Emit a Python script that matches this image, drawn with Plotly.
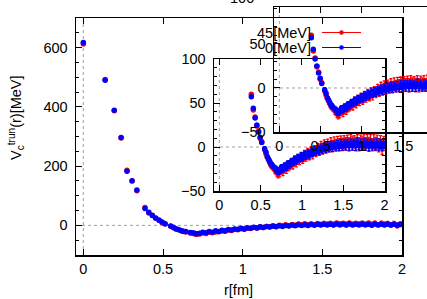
import plotly.graph_objects as go

W, H = 427, 299

# ---------------- data ----------------
r_near = [0.0, 0.137, 0.194, 0.237, 0.274, 0.306, 0.336, 0.387, 0.411, 0.433,
          0.454, 0.475, 0.494, 0.513, 0.548, 0.565, 0.581, 0.597, 0.613, 0.628,
          0.643, 0.671, 0.685, 0.699, 0.712]
r_far = [0.73, 0.75, 0.77, 0.79, 0.81, 0.83, 0.85, 0.87, 0.89, 0.91, 0.93, 0.95,
         0.97, 0.99, 1.01, 1.03, 1.05, 1.07, 1.09, 1.11, 1.13, 1.15, 1.17, 1.19,
         1.21, 1.23, 1.25, 1.27, 1.29, 1.31, 1.33, 1.35, 1.37, 1.39, 1.41, 1.43,
         1.45, 1.47, 1.49, 1.51, 1.53, 1.55, 1.57, 1.59, 1.61, 1.63, 1.65, 1.67,
         1.69, 1.71, 1.73, 1.75, 1.77, 1.79, 1.81, 1.83, 1.85, 1.87, 1.89, 1.91,
         1.93, 1.95, 1.97, 1.99]

# 0 MeV (blue)
v0_near = [617, 490, 389, 297, 183, 151, 119, 57, 44, 33,
           25, 17, 11, 5, -2, -6, -11, -14, -17, -20,
           -21, -24, -25, -27, -28]
v0_far = [-27, -23, -25, -21, -23, -18.5, -20.5, -16.5, -18, -14, -16, -12,
          -13.5, -10, -12, -8, -10, -6.5, -8.5, -5, -7, -3.5, -5.5, -2.5,
          -4.5, -1, -3.5, 0, -2.5, 1, -1.5, 2, -0.5, 2.5, 0, 3,
          0.5, 3.5, 1, 4, 1.5, 4, 1, 4.5, 1.5, 4.5, 1, 5,
          1.5, 4, 1, 4.5, 1.5, 4, 0.5, 4.5, 1.5, 4, 1, 4.5,
          1, 4, 0.5, 3.5]
e0_near = [1, 1, 1, 1, 1, 1, 1, 1, 1, 1,
           1.5, 1.5, 1.5, 2, 2, 2, 2, 2.5, 2.5, 2.5,
           3, 3, 3, 3.5, 3.5]
e0_far = [3.5, 3, 3.5, 3, 3.5, 3, 3.5, 3.5, 3, 3.5, 3.5, 3.5,
          3.5, 3.5, 4, 3.5, 4, 3.5, 4, 4, 3.5, 4, 4, 4,
          4, 4.5, 4, 4.5, 4, 4.5, 4, 4.5, 4.5, 4, 4.5, 4.5,
          4.5, 5, 4.5, 4.5, 5, 4.5, 5, 4.5, 5, 4.5, 5, 5,
          4.5, 5, 4.5, 5, 5, 4.5, 5, 4.5, 5, 5, 4.5, 5,
          5, 4.5, 5, 5]

# 45 MeV (red)
v45_near = [612, 492, 387, 295, 186, 150, 117, 60, 42, 34,
            24, 18, 10, 6, -3, -8, -12, -15, -18, -21,
            -22, -26, -27, -29, -30]
v45_far = [-29, -26, -27.5, -23, -25, -22, -21.5, -19, -20, -16, -17.5, -14,
           -15, -11.5, -13, -10, -10.5, -7.5, -9, -5.5, -7.5, -4, -5, -2,
           -3.5, 0, -2, 1.5, -1, 2.5, 0.5, 3.5, 1, 4.5, 2, 5,
           2.5, 6, 3, 5.5, 3.5, 6.5, 3, 7, 4, 6, 3.5, 7,
           3, 6.5, 4, 6, 3.5, 7, 3, 6.5, 2.5, 6, 3.5, 5.5,
           2, 5, 0, 4]
e45_near = [1.5, 1.5, 1.5, 1.5, 1.5, 1.5, 1.5, 1.5, 1.5, 1.5,
            2, 2, 2.5, 2.5, 3, 3, 3, 3.5, 3.5, 3.5,
            4, 4, 4.5, 4.5, 5]
e45_far = [5, 4.5, 5, 4.5, 5, 5, 4.5, 5, 5, 5.5, 5, 5.5,
           5, 5.5, 5.5, 6, 5.5, 6, 5.5, 6, 6, 5.5, 6, 6,
           6, 6.5, 6, 6.5, 6, 6.5, 6, 7, 6.5, 7, 6.5, 7,
           7, 6.5, 7, 7.5, 7, 7, 7.5, 7, 7.5, 7, 7.5, 7,
           7.5, 7, 7.5, 8, 7, 7.5, 8, 7.5, 7, 8, 7.5, 8,
           7.5, 8, 8.5, 8]

series = [
    ("45[MeV]", "#ff0000", r_near + r_far, v45_near + v45_far, e45_near + e45_far),
    ("0[MeV]", "#0000ff", r_near + r_far, v0_near + v0_far, e0_near + e0_far),
]

main_xticks = [0, 0.5, 1, 1.5, 2]
main_yticks = [0, 200, 400, 600]
inset_yticks = [-50, 0, 50, 100]

FONT = "Liberation Sans, Arial, sans-serif"
FS = 14.5


def px(x):
    return x / W


def py(y):
    return 1 - y / H


fig = go.Figure()

subplots = [("x", "y"), ("x2", "y2"), ("x3", "y3")]
for xa, ya in subplots:
    for name, col, rr, vv, ee in series:
        fig.add_trace(go.Scatter(
            x=rr, y=vv, xaxis=xa, yaxis=ya, mode="markers", name=name,
            marker=dict(color=col, size=5.5, line=dict(width=0)),
            error_y=dict(type="data", array=ee, color=col, thickness=1.3, width=1.5),
            showlegend=False, hoverinfo="skip"))

ax_common = dict(showgrid=False, zeroline=False, showline=True, linecolor="black",
                 linewidth=1.5, ticks="inside", tickcolor="black", tickwidth=1,
                 ticklen=6, tickfont=dict(family=FONT, size=FS, color="black"),
                 automargin=False)

fig.update_layout(
    width=W, height=H, margin=dict(l=0, r=0, t=0, b=0),
    paper_bgcolor="white", plot_bgcolor="rgba(0,0,0,0)",
    font=dict(family=FONT, size=FS, color="black"),
    showlegend=False,
    xaxis=dict(domain=[px(76), px(402)], range=[-0.046, 2.0], tickvals=main_xticks,
               ticktext=["0", "0.5", "1", "1.5", "2"], mirror="ticks", anchor="y",
               **ax_common),
    yaxis=dict(domain=[py(255), py(18)], range=[-100, 700], tickvals=main_yticks,
               mirror="ticks", anchor="x", ticklabelstandoff=4,
               minor=dict(dtick=50, tick0=0, ticks="inside", ticklen=3, tickcolor="black"),
               **ax_common),
    xaxis2=dict(domain=[px(214), px(385)], range=[-0.065, 2.005], tickvals=main_xticks,
                ticktext=["0", "0.5", "1", "1.5", "2"], mirror="ticks", anchor="y2",
                **ax_common),
    yaxis2=dict(domain=[py(191), py(59)], range=[-50, 100], tickvals=inset_yticks,
                mirror="ticks", anchor="x2", ticklabelstandoff=4,
                minor=dict(dtick=10, tick0=0, ticks="inside", ticklen=3, tickcolor="black"),
                **ax_common),
    xaxis3=dict(domain=[px(274), 1.0], range=[-0.065, -0.065 + 153 / 82.6],
                tickvals=main_xticks[:4], ticktext=["0", "0.5", "1", "1.5"],
                mirror="ticks", anchor="y3", **ax_common),
    yaxis3=dict(domain=[py(132), py(7)], range=[-50, 92], tickvals=inset_yticks[:3],
                mirror=False, anchor="x3", ticklabelstandoff=4,
                minor=dict(dtick=10, tick0=0, ticks="inside", ticklen=3, tickcolor="black"),
                **ax_common),
)

# dotted zero axes
shapes = []
for xa, ya in subplots:
    shapes.append(dict(type="line", xref=f"{xa} domain", yref=ya, x0=0, x1=1, y0=0, y1=0,
                       line=dict(color="#a0a0a0", width=1, dash="dot"), layer="below"))
    shapes.append(dict(type="line", xref=xa, yref=f"{ya} domain", x0=0, x1=0, y0=0, y1=1,
                       line=dict(color="#a0a0a0", width=1, dash="dot"), layer="below"))

# manual key (gnuplot style: text then sample)
key_rows = [("45[MeV]", "#ff0000", 32.5), ("0[MeV]", "#0000ff", 47.5)]
annotations = []
for label, col, yk in key_rows:
    annotations.append(dict(text=label, xref="paper", yref="paper", x=px(313), y=py(yk),
                            xanchor="right", yanchor="middle", showarrow=False,
                            font=dict(family=FONT, size=FS, color="black")))
    shapes.append(dict(type="line", xref="paper", yref="paper", x0=px(322), x1=px(361),
                       y0=py(yk), y1=py(yk), line=dict(color=col, width=1)))
    shapes.append(dict(type="circle", xref="paper", yref="paper",
                       x0=px(339.2), x1=px(343.8), y0=py(yk + 2.3), y1=py(yk - 2.3),
                       fillcolor=col, line=dict(color=col, width=0)))

# cut-off tick label at top of the outer inset
annotations.append(dict(text="100", xref="paper", yref="paper", x=px(256), y=py(-2),
                        xanchor="right", yanchor="middle", showarrow=False,
                        font=dict(family=FONT, size=FS, color="black")))

# axis titles
annotations.append(dict(text="V<sub>c</sub><sup>trun</sup>(r)[MeV]", xref="paper", yref="paper",
                        x=px(16), y=py(118), textangle=-90, showarrow=False,
                        xanchor="center", yanchor="middle",
                        font=dict(family=FONT, size=FS, color="black")))
annotations.append(dict(text="r[fm]", xref="paper", yref="paper", x=px(239), y=py(290),
                        showarrow=False, xanchor="center", yanchor="middle",
                        font=dict(family=FONT, size=FS, color="black")))

fig.update_layout(shapes=shapes, annotations=annotations)
fig.write_html("out.html", config={"displayModeBar": False, "staticPlot": True},
               post_script="document.body.style.margin='0';document.body.style.overflow='hidden';")
